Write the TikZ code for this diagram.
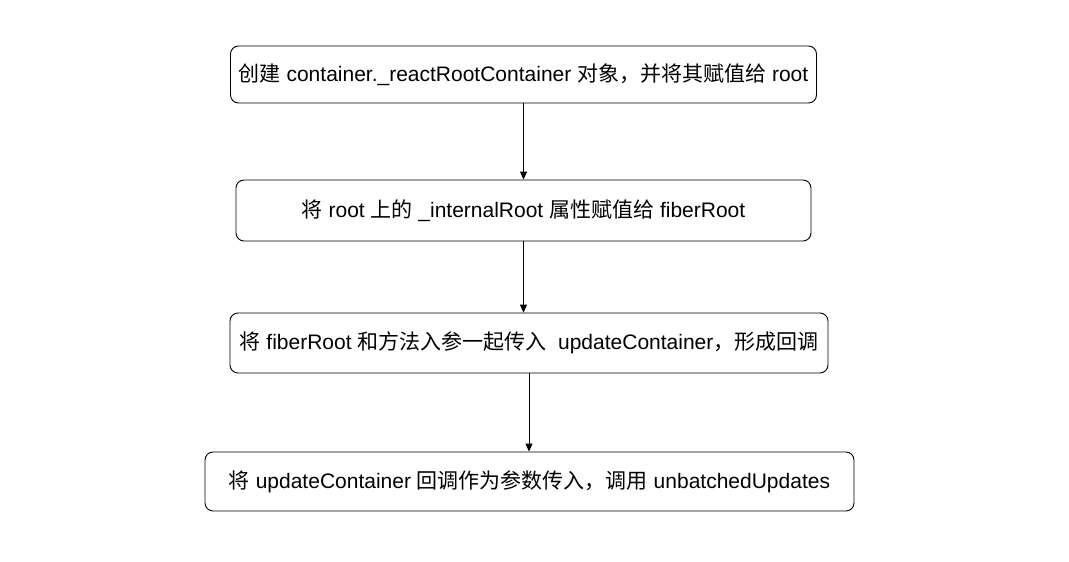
\documentclass[tikz,border=0pt]{standalone}
\usepackage{fontspec}
\setmainfont{Liberation Sans}
\newfontfamily\cjk{Noto Sans CJK SC}
\newcommand\zh[1]{{\cjk #1}}
\usetikzlibrary{arrows.meta}
\begin{document}
\begin{tikzpicture}[x=1pt,y=-1pt,
  box/.style={draw, rounded corners=8pt, line width=0.9pt, inner sep=0pt,
    font=\fontsize{21}{25}\selectfont, anchor=center},
  conn/.style={line width=0.9pt, -{Triangle[length=8pt,width=7pt]}}]
\useasboundingbox (0,0) rectangle (1069,562);
\fill[white] (0,0) rectangle (1069,562);
\node[box, minimum width=586pt, minimum height=57pt] (a) at (523.5,74.5)
  {\zh{创建} container.\_reactRootContainer \zh{对象，并将其赋值给} root};
\node[box, minimum width=575pt, minimum height=61pt] (b) at (523.5,210.5)
  {\zh{将} root \zh{上的} \_internalRoot \zh{属性赋值给} fiberRoot};
\node[box, minimum width=598pt, minimum height=60pt] (c) at (529,343)
  {\zh{将} fiberRoot \zh{和方法入参一起传入}\ \ updateContainer\zh{，形成回调}};
\node[box, minimum width=649pt, minimum height=59pt] (d) at (529.5,481.5)
  {\zh{将} updateContainer \zh{回调作为参数传入，调用} unbatchedUpdates};
\draw[conn] (a.south) -- (a.south |- b.north);
\draw[conn] (b.south) -- (b.south |- c.north);
\draw[conn] (c.south) -- (c.south |- d.north);
\end{tikzpicture}
\end{document}
